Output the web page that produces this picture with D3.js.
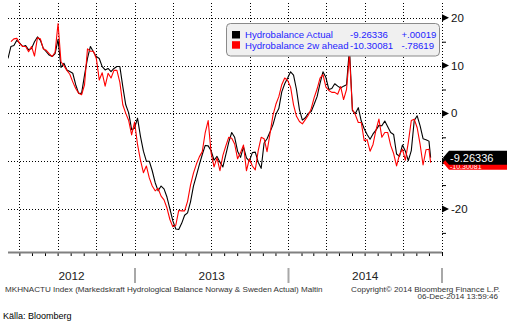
<!DOCTYPE html>
<html><head><meta charset="utf-8">
<script src="https://cdn.jsdelivr.net/npm/d3@7"></script>
<style>
html,body{margin:0;padding:0;background:#fff;}
svg{display:block;font-family:"Liberation Sans",Arial,sans-serif;}
</style></head><body>
<svg id="chart" width="507" height="332"></svg>
<script>
// ---------- data ----------
const dates = [
"2012-03-05","2012-03-12","2012-03-19","2012-03-26","2012-04-02","2012-04-09","2012-04-16","2012-04-23","2012-04-30","2012-05-07",
"2012-05-14","2012-05-21","2012-05-28","2012-06-04","2012-06-11","2012-06-18","2012-06-25","2012-07-02","2012-07-09","2012-07-16",
"2012-07-23","2012-07-30","2012-08-06","2012-08-13","2012-08-20","2012-08-27","2012-09-03","2012-09-10","2012-09-17","2012-09-24",
"2012-10-01","2012-10-08","2012-10-15","2012-10-22","2012-10-29","2012-11-05","2012-11-12","2012-11-19","2012-11-26","2012-12-03",
"2012-12-10","2012-12-17","2012-12-24","2012-12-31","2013-01-07","2013-01-14","2013-01-21","2013-01-28","2013-02-04","2013-02-11",
"2013-02-18","2013-02-25","2013-03-04","2013-03-11","2013-03-18","2013-03-25","2013-04-01","2013-04-08","2013-04-15","2013-04-22",
"2013-04-29","2013-05-06","2013-05-13","2013-05-20","2013-05-27","2013-06-03","2013-06-10","2013-06-17","2013-06-24","2013-07-01",
"2013-07-08","2013-07-15","2013-07-22","2013-07-29","2013-08-05","2013-08-12","2013-08-19","2013-08-26","2013-09-02","2013-09-09",
"2013-09-16","2013-09-23","2013-09-30","2013-10-07","2013-10-14","2013-10-21","2013-10-28","2013-11-04","2013-11-11","2013-11-18",
"2013-11-25","2013-12-02","2013-12-09","2013-12-16","2013-12-23","2013-12-30","2014-01-06","2014-01-13","2014-01-20","2014-01-27",
"2014-02-03","2014-02-10","2014-02-17","2014-02-24","2014-03-03","2014-03-10","2014-03-17","2014-03-24","2014-03-31","2014-04-07",
"2014-04-14","2014-04-21","2014-04-28","2014-05-05","2014-05-12","2014-05-19","2014-05-26","2014-06-02","2014-06-09","2014-06-16",
"2014-06-23","2014-06-30","2014-07-07","2014-07-14","2014-07-21","2014-07-28","2014-08-04","2014-08-11","2014-08-18","2014-08-25",
"2014-09-01","2014-09-08","2014-09-15","2014-09-22","2014-09-29","2014-10-06","2014-10-13","2014-10-20","2014-10-27","2014-11-03",
"2014-11-10","2014-11-17","2014-11-24","2014-12-01","2014-12-05"];

const actual = [
11.5,14.0,14.2,15.3,14.7,14.0,14.2,13.3,13.6,15.0,
16.0,15.3,13.6,12.9,12.2,11.9,12.5,15.5,9.6,10.5,
9.1,8.75,8.4,6.0,4.2,4.2,8.0,11.5,14.0,12.9,
11.9,11.5,9.8,9.1,9.4,8.75,9.4,9.8,9.8,5.6,
1.8,0.1,-3.4,-3.1,-1.0,-4.8,-7.9,-10.0,-10.0,-12.0,
-14.5,-16.2,-15.2,-15.8,-17.5,-20.0,-22.5,-24.2,-24.3,-23.0,
-21.3,-20.8,-18.5,-15.2,-13.0,-10.7,-8.6,-6.7,-6.8,-7.8,
-9.8,-9.0,-10.2,-11.2,-8.6,-6.0,-4.0,-5.0,-7.9,-9.2,
-7.0,-9.3,-10.0,-8.2,-8.1,-10.2,-11.5,-6.2,-5.3,-3.9,
-2.4,-0.2,1.0,4.5,6.2,7.4,8.7,8.0,5.0,0.8,
-1.4,-0.9,0.0,0.4,1.9,3.5,6.3,8.7,7.5,5.0,
5.2,6.2,5.7,5.3,5.7,6.0,13.6,0.6,0.0,1.2,
-1.6,-3.2,-4.4,-5.4,-4.3,-3.5,-2.5,-2.6,-1.6,-2.8,
-4.0,-4.4,-8.5,-9.0,-6.6,-7.9,-9.9,-7.8,-1.5,-0.5,
-2.6,-5.3,-5.5,-5.8,-9.26336];

const ahead = [
null,15.0,15.6,15.7,14.6,14.0,14.0,12.9,14.0,12.0,
15.8,15.6,13.5,13.2,12.5,11.9,12.8,18.8,10.8,10.0,
9.0,8.2,6.6,5.2,4.2,3.9,6.0,13.5,13.0,13.0,
11.5,7.0,8.5,5.7,8.4,7.4,9.0,9.0,6.5,1.8,
0.0,-1.5,-4.5,-1.8,-6.5,-9.8,-12.4,-11.0,-13.5,-15.2,
-16.2,-15.7,-17.3,-18.1,-19.8,-22.2,-23.7,-23.4,-20.3,-20.4,
-20.4,-18.4,-15.0,-12.5,-10.6,-9.1,-8.0,-4.0,-1.5,-8.3,
-11.2,-9.3,-12.0,-8.8,-6.8,-5.0,-5.2,-6.4,-9.5,-8.2,
-6.6,-12.0,-9.5,-11.0,-11.8,-7.8,-5.0,-5.3,-8.0,-4.3,
-0.4,1.9,3.5,6.0,7.4,6.9,5.5,1.8,-0.6,-1.7,
-2.2,-1.3,-0.4,1.0,3.3,5.1,7.4,8.1,5.5,4.8,
4.4,4.4,4.0,5.6,2.9,5.0,12.2,0.8,-0.3,-1.9,
-1.9,-5.7,-5.5,-7.9,-6.5,-3.5,-1.2,-5.0,-4.0,-4.0,
-6.7,-8.4,-11.0,-8.6,-7.5,-9.8,-6.0,-1.5,-1.2,-3.0,
-6.5,-10.8,-7.6,-7.5,-10.30081];

const seriesNames = ["Hydrobalance Actual","Hydrobalance 2w ahead"];
const seriesColors = ["#000000","#ff0000"];
const legendLast = ["-9.26336","-10.30081"];
const legendChange = ["+.00019","-.78619"];
const yMajor = [20,10,0,-10,-20];
const yMajorLabels = ["20","10","0","-10","-20"];
const yMinor = [25,15,5,-5,-15,-25];
const yearLabels = ["2012","2013","2014"];
const footerLeft = "MKHNACTU Index (Markedskraft Hydrological Balance Norway & Sweden Actual) Maltin";
const footerRight = ["Copyright\u00a9 2014 Bloomberg Finance L.P.","06-Dec-2014 13:59:46"];
const sourceText = "K\u00e4lla: Bloomberg";

// ---------- layout ----------
const W = 507, H = 332;
const plotL = 8, plotR = 442, plotT = 3, plotB = 252;
const parse = d3.timeParse("%Y-%m-%d");
const D = dates.map(parse);

const x = d3.scaleTime()
  .domain([new Date(2013,0,1), new Date(2014,9,1)])
  .range([135, 403.3]);
const y = d3.scaleLinear().domain([-29, 23.1]).range([plotB, plotT]);

const svg = d3.select("#chart");
svg.append("rect").attr("width",W).attr("height",H).attr("fill","#fff");

const dMin = x.invert(plotL), dMax = x.invert(plotR + 1);

// grid
const grid = svg.append("g").attr("stroke","#000").attr("stroke-width",1)
  .attr("stroke-dasharray","1,2").attr("fill","none");
const quarters = d3.timeMonth.every(3).range(dMin, dMax).filter(d => x(d) < plotR - 2);
grid.selectAll("line.v").data(quarters).join("line")
  .attr("x1", d => Math.round(x(d)) + 0.5).attr("x2", d => Math.round(x(d)) + 0.5)
  .attr("y1", plotT).attr("y2", plotB);
grid.selectAll("line.h").data(yMajor).join("line")
  .attr("x1", plotL).attr("x2", plotR)
  .attr("y1", d => Math.round(y(d)) + 0.5).attr("y2", d => Math.round(y(d)) + 0.5);
// right axis dotted line
grid.append("line").attr("x1", plotR + 0.5).attr("x2", plotR + 0.5)
  .attr("y1", plotT).attr("y2", plotB + 3);

// series
svg.append("clipPath").attr("id","clip").append("rect")
  .attr("x", plotL).attr("y", plotT).attr("width", plotR - plotL).attr("height", plotB - plotT);
const line = d3.line().defined(d => d[1] != null).x(d => x(d[0])).y(d => y(d[1]));
[actual, ahead].forEach((vals, i) => {
  svg.append("path")
    .attr("clip-path","url(#clip)")
    .attr("d", line(D.map((d, j) => [d, vals[j]])))
    .attr("fill","none").attr("stroke", seriesColors[i]).attr("stroke-width",1.1)
    .attr("stroke-linejoin","round");
});

// bottom axis (month ticks)
const months = d3.timeMonth.range(dMin, dMax);
const xAxis = svg.append("g").attr("transform", `translate(0,${plotB})`)
  .call(d3.axisBottom(x).tickValues(months).tickSize(4).tickSizeOuter(0).tickFormat(""));
xAxis.select(".domain").remove();
xAxis.selectAll(".tick line").attr("stroke","#000");
svg.append("line").attr("x1", plotL).attr("x2", plotR).attr("y1", plotB + 0.5).attr("y2", plotB + 0.5)
  .attr("stroke","#808080").attr("stroke-width",2);

// year labels and separators
const years = d3.timeYear.range(d3.timeYear.floor(dMin), d3.timeYear.ceil(dMax));
years.forEach((yr, i) => {
  const a = Math.max(plotL, x(yr)), b = Math.min(plotR, x(d3.timeYear.offset(yr, 1)));
  svg.append("text").attr("x", (a + b) / 2).attr("y", 279.5).attr("text-anchor","middle")
    .attr("font-size", 11.8).attr("fill","#222").text(yearLabels[i]);
});
const yearBounds = d3.timeYear.range(d3.timeYear.ceil(dMin), d3.timeYear.offset(dMax, 1))
  .filter(d => x(d) <= plotR + 1);
svg.selectAll("line.ysep").data(yearBounds).join("line")
  .attr("x1", d => x(d)).attr("x2", d => x(d)).attr("y1", 268).attr("y2", 283)
  .attr("stroke","#a8a8a8").attr("stroke-width",2);

// right axis
const yAxis = svg.append("g").attr("transform", `translate(${plotR},0)`)
  .call(d3.axisRight(y).tickValues(yMinor).tickSize(4).tickFormat(""));
yAxis.select(".domain").remove();
yAxis.selectAll(".tick line").attr("stroke","#000");
yMajor.forEach((v, i) => {
  const yy = y(v);
  svg.append("path").attr("d", `M${plotR},${yy - 3.5}L${plotR + 7},${yy}L${plotR},${yy + 3.5}Z`).attr("fill","#000");
  if (v !== -10) {
    svg.append("text").attr("x", plotR + 9).attr("y", yy + 4).attr("font-size", 11.5)
      .attr("fill","#111").text(yMajorLabels[i]);
  }
});

// last-value tags (red behind, black on top)
const tagClip = svg.append("clipPath").attr("id","redTagClip").append("rect")
  .attr("x", plotR).attr("width", W - plotR)
  .attr("y", y(actual[actual.length - 1]) + 7).attr("height", 20);
[[ahead, 1], [actual, 0]].forEach(([vals, i]) => {
  const v = vals[vals.length - 1];
  const yy = y(v);
  svg.append("path")
    .attr("d", `M${plotR + 1},${yy}L${plotR + 7},${yy - 7}L${W},${yy - 7}L${W},${yy + 7}L${plotR + 7},${yy + 7}Z`)
    .attr("fill", seriesColors[i]);
  const t = svg.append("text").attr("x", plotR + 8).attr("y", yy + 4).attr("font-size", i === 0 ? 11 : 7)
    .attr("fill","#fff").text(legendLast[i]);
  if (i === 1) t.attr("y", yy + 6.5).attr("clip-path","url(#redTagClip)");
});

// legend
const lg = svg.append("g");
lg.append("rect").attr("x", 226.5).attr("y", 23.5).attr("width", 213).attr("height", 32.5).attr("rx", 4)
  .attr("fill","#f0f0f0").attr("stroke","#8a8a8a").attr("stroke-width",1);
seriesNames.forEach((n, i) => {
  const by = 38.3 + i * 10.2;
  lg.append("rect").attr("x", 232).attr("y", by - 7.3).attr("width", 8).attr("height", 7.5).attr("fill", seriesColors[i]);
  lg.append("text").attr("x", 245).attr("y", by).attr("font-size", 9.6).attr("fill","#2424ff").text(n);
  lg.append("text").attr("x", 350).attr("y", by).attr("font-size", 9.6).attr("fill","#2424ff").text(legendLast[i]);
  lg.append("text").attr("x", 401.5).attr("y", by).attr("font-size", 9.6).attr("fill","#2424ff").text(legendChange[i]);
});

// footer
svg.append("text").attr("x", 5).attr("y", 291.5).attr("font-size", 8.1).attr("fill","#333").text(footerLeft);
footerRight.forEach((t, i) => {
  svg.append("text").attr("x", i === 0 ? 500 : 498).attr("y", 291.5 + i * 7.5).attr("text-anchor","end")
    .attr("font-size", 8.1).attr("fill","#333").text(t);
});
svg.append("text").attr("x", 3).attr("y", 318.5).attr("font-size", 9).attr("fill","#000").text(sourceText);
</script>
</body></html>
